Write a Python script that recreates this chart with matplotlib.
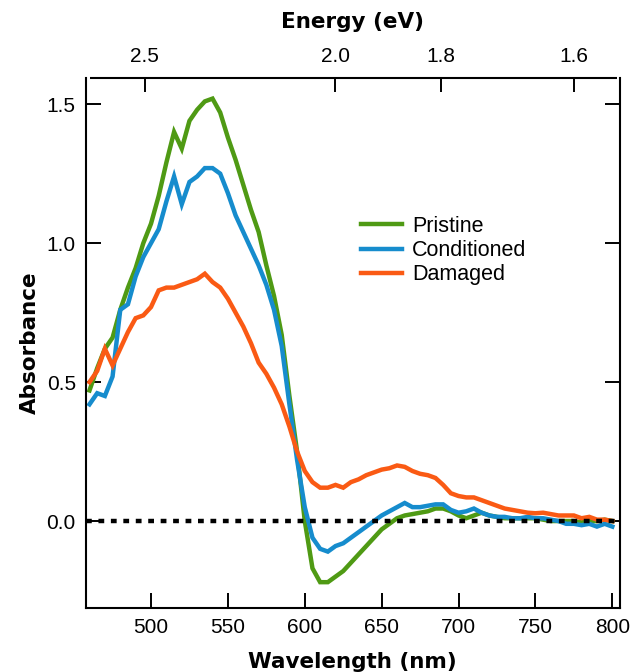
import matplotlib
matplotlib.use("Agg")
import matplotlib.pyplot as plt

# ---- data ----
wavelength = list(range(460, 805, 5))

pristine = [0.47, 0.55, 0.62, 0.66, 0.76, 0.84, 0.91, 1.00, 1.07, 1.17,
            1.29, 1.40, 1.34, 1.44, 1.48, 1.51, 1.52, 1.47, 1.38, 1.30,
            1.21, 1.12, 1.04, 0.92, 0.81, 0.67, 0.45, 0.25, 0.00, -0.17,
            -0.22, -0.22, -0.20, -0.18, -0.15, -0.12, -0.09, -0.06, -0.03, -0.01,
            0.01, 0.02, 0.025, 0.03, 0.035, 0.045, 0.045, 0.035, 0.02, 0.01,
            0.02, 0.03, 0.02, 0.015, 0.01, 0.01, 0.01, 0.01, 0.01, 0.005,
            0.0, 0.0, 0.0, 0.0, -0.005, 0.0, 0.0, 0.005, 0.0]

conditioned = [0.42, 0.46, 0.45, 0.52, 0.76, 0.78, 0.88, 0.95, 1.00, 1.05,
               1.15, 1.24, 1.14, 1.22, 1.24, 1.27, 1.27, 1.25, 1.18, 1.10,
               1.04, 0.98, 0.92, 0.85, 0.76, 0.63, 0.42, 0.22, 0.05, -0.06,
               -0.10, -0.11, -0.09, -0.08, -0.06, -0.04, -0.02, 0.00, 0.02, 0.035,
               0.05, 0.065, 0.05, 0.05, 0.055, 0.06, 0.06, 0.04, 0.03, 0.035,
               0.045, 0.03, 0.02, 0.015, 0.015, 0.01, 0.01, 0.015, 0.01, 0.01,
               0.005, 0.0, -0.01, -0.01, -0.015, -0.01, -0.02, -0.01, -0.02]

damaged = [0.50, 0.54, 0.62, 0.56, 0.62, 0.68, 0.73, 0.74, 0.77, 0.83,
           0.84, 0.84, 0.85, 0.86, 0.87, 0.89, 0.86, 0.84, 0.80, 0.75,
           0.70, 0.64, 0.57, 0.53, 0.48, 0.42, 0.34, 0.25, 0.18, 0.14,
           0.12, 0.12, 0.13, 0.12, 0.14, 0.15, 0.165, 0.175, 0.185, 0.19,
           0.20, 0.195, 0.18, 0.17, 0.165, 0.155, 0.13, 0.10, 0.09, 0.085,
           0.085, 0.075, 0.065, 0.055, 0.045, 0.04, 0.035, 0.03, 0.028, 0.03,
           0.025, 0.02, 0.02, 0.02, 0.01, 0.015, 0.005, 0.005, 0.0]

series_names = ["Pristine", "Conditioned", "Damaged"]
series_colors = ["#4F9A14", "#168CCD", "#FA5A14"]

x_ticks = [500, 550, 600, 650, 700, 750, 800]
y_ticks = [0.0, 0.5, 1.0, 1.5]
y_tick_labels = ["0.0", "0.5", "1.0", "1.5"]
energy_ticks = [2.5, 2.0, 1.8, 1.6]
energy_tick_labels = ["2.5", "2.0", "1.8", "1.6"]
HC = 1239.84  # eV*nm

# ---- figure ----
plt.rcParams['font.family'] = ['Liberation Sans', 'DejaVu Sans']
W, H = 632, 672
fig = plt.figure(figsize=(W / 100, H / 100), dpi=100)
L, R, T, B = 85.5, 620, 77.5, 608.3
ax = fig.add_axes([L / W, 1 - B / H, (R - L) / W, (B - T) / H])

for vals, name, col in zip([pristine, conditioned, damaged], series_names, series_colors):
    ax.plot(wavelength, vals, color=col, lw=3.2, label=name, solid_joinstyle='miter')

ax.axhline(0, color='black', lw=3.2, linestyle=(0, (1.3, 1.5)), zorder=5)

ax.set_xlim(457.4, 805.0)
ax.set_ylim(-0.314, 1.596)

ax.set_xticks(x_ticks)
ax.set_yticks(y_ticks)
ax.set_yticklabels(y_tick_labels)
ax.tick_params(axis='both', direction='in', length=11, width=1.4, labelsize=15, pad=7)
ax.tick_params(axis='y', right=True)
for s in ['left', 'right', 'bottom']:
    ax.spines[s].set_linewidth(1.5)
ax.spines['top'].set_visible(False)

# top spine slightly shorter (Igor style)
ax.plot([0.0084, 0.9944], [1, 1], transform=ax.transAxes, color='black', lw=1.5,
        clip_on=False, solid_capstyle='butt')

sec = ax.secondary_xaxis('top', functions=(lambda x: HC / x, lambda e: HC / e))
sec.set_xticks(energy_ticks)
sec.set_xticklabels(energy_tick_labels)
sec.tick_params(direction='in', length=11, width=1.4, labelsize=15, pad=8)
sec.spines['top'].set_visible(False)

label_font = dict(family=['DejaVu Sans'], fontsize=15.5, fontweight='bold')
sec.set_xlabel("Energy (eV)", labelpad=14, **label_font)
ax.set_xlabel("Wavelength (nm)", labelpad=11, **label_font)
ax.set_ylabel("Absorbance", labelpad=5, **label_font)

leg = ax.legend(loc='upper left', bbox_to_anchor=(360.7 / W, 1 - 216 / H),
                bbox_transform=fig.transFigure, frameon=False, fontsize=15.5,
                handlelength=1.9, handletextpad=0.5, labelspacing=0.15,
                borderpad=0, borderaxespad=0)
for line in leg.get_lines():
    line.set_linewidth(3.2)

fig.savefig("out.png", dpi=100)
